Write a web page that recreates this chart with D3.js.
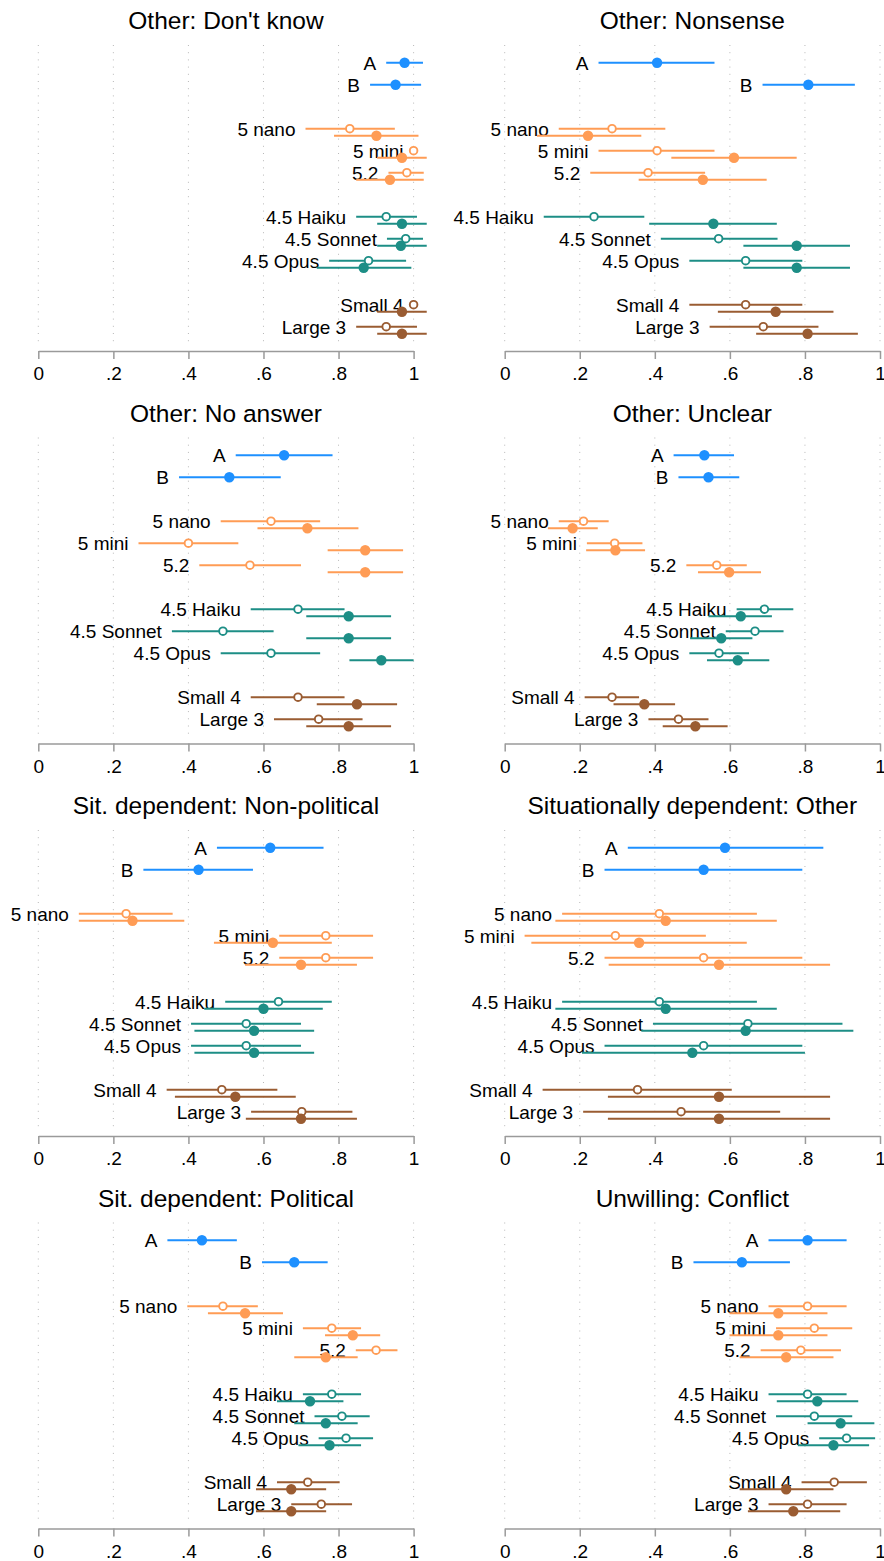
<!DOCTYPE html>
<html>
<head>
<meta charset="utf-8">
<script src="https://cdn.jsdelivr.net/npm/d3@7"></script>
<style>
  html, body { margin: 0; padding: 0; background: #fff; }
  svg text { font-family: "Liberation Sans", Arial, Helvetica, sans-serif; fill: #000; }
</style>
</head>
<body>
<svg id="chart" width="884" height="1561"></svg>
<script>
// ---------------- DATA ----------------
const panelTitles = [
  "Other: Don't know", "Other: Nonsense",
  "Other: No answer", "Other: Unclear",
  "Sit. dependent: Non-political", "Situationally dependent: Other",
  "Sit. dependent: Political", "Unwilling: Conflict"
];
const groupLabels = ["A", "B"];
const modelLabels = ["5 nano", "5 mini", "5.2", "4.5 Haiku", "4.5 Sonnet", "4.5 Opus", "Small 4", "Large 3"];
const modelFamily = ["gpt", "gpt", "gpt", "claude", "claude", "claude", "mistral", "mistral"];
const tickValues = [0, 0.2, 0.4, 0.6, 0.8, 1];
const tickLabels = ["0", ".2", ".4", ".6", ".8", "1"];

// A / B estimates per panel
const abEst = [[0.976,0.952],[0.406,0.809],[0.655,0.509],[0.532,0.543],[0.618,0.427],[0.587,0.530],[0.436,0.682],[0.807,0.632]];
const abLo  = [[0.927,0.884],[0.250,0.687],[0.526,0.375],[0.450,0.463],[0.476,0.280],[0.328,0.266],[0.344,0.596],[0.703,0.503]];
const abHi  = [[1.025,1.020],[0.559,0.933],[0.784,0.646],[0.611,0.625],[0.760,0.572],[0.849,0.793],[0.529,0.771],[0.911,0.760]];

// hollow-marker series per panel (models in order of modelLabels)
const hollowEst = [
  [0.830,1.000,0.982,0.927,0.979,0.880,1.000,0.927],
  [0.286,0.406,0.382,0.238,0.570,0.642,0.642,0.689],
  [0.620,0.400,0.564,0.692,0.492,0.620,0.692,0.747],
  [0.210,0.293,0.565,0.692,0.667,0.571,0.286,0.463],
  [0.234,0.766,0.766,0.640,0.554,0.554,0.489,0.702],
  [0.412,0.295,0.530,0.412,0.648,0.530,0.354,0.470],
  [0.492,0.782,0.900,0.782,0.809,0.820,0.718,0.754],
  [0.807,0.825,0.789,0.807,0.825,0.911,0.878,0.807]
];
const hollowLo = [
  [0.712,1.000,0.933,0.847,0.929,0.775,1.000,0.847],
  [0.144,0.250,0.228,0.104,0.416,0.492,0.492,0.546],
  [0.486,0.267,0.429,0.566,0.356,0.486,0.566,0.628],
  [0.144,0.219,0.484,0.618,0.589,0.492,0.213,0.383],
  [0.108,0.642,0.642,0.498,0.407,0.407,0.342,0.567],
  [0.153,0.053,0.266,0.153,0.395,0.266,0.101,0.209],
  [0.397,0.705,0.846,0.705,0.736,0.747,0.636,0.674],
  [0.703,0.723,0.682,0.703,0.723,0.838,0.791,0.703]
];
const hollowHi = [
  [0.950,1.000,1.027,1.009,1.025,0.980,1.000,1.009],
  [0.428,0.559,0.534,0.372,0.727,0.793,0.793,0.836],
  [0.751,0.533,0.700,0.816,0.627,0.751,0.816,0.864],
  [0.277,0.367,0.645,0.769,0.743,0.651,0.358,0.543],
  [0.358,0.892,0.892,0.782,0.700,0.700,0.637,0.837],
  [0.672,0.536,0.793,0.672,0.900,0.793,0.605,0.734],
  [0.585,0.860,0.957,0.860,0.883,0.892,0.803,0.836],
  [0.911,0.926,0.896,0.911,0.926,0.987,0.965,0.911]
];

// filled-marker series per panel
const filledEst = [
  [0.901,0.969,0.937,0.969,0.966,0.867,0.969,0.969],
  [0.222,0.611,0.528,0.556,0.778,0.778,0.722,0.807],
  [0.717,0.871,0.871,0.827,0.827,0.914,0.849,0.827],
  [0.181,0.295,0.598,0.629,0.577,0.621,0.372,0.508],
  [0.251,0.625,0.700,0.600,0.575,0.575,0.525,0.700],
  [0.429,0.358,0.571,0.429,0.642,0.500,0.571,0.571],
  [0.551,0.838,0.766,0.724,0.766,0.776,0.674,0.674],
  [0.729,0.729,0.750,0.833,0.895,0.876,0.750,0.769]
];
const filledLo = [
  [0.788,0.903,0.847,0.903,0.903,0.742,0.903,0.903],
  [0.086,0.444,0.357,0.385,0.636,0.636,0.568,0.670],
  [0.584,0.771,0.771,0.714,0.714,0.829,0.742,0.714],
  [0.115,0.217,0.515,0.543,0.494,0.539,0.290,0.421],
  [0.108,0.468,0.551,0.442,0.416,0.416,0.364,0.553],
  [0.135,0.071,0.277,0.135,0.364,0.206,0.275,0.275],
  [0.452,0.764,0.682,0.636,0.682,0.693,0.580,0.580],
  [0.599,0.599,0.626,0.725,0.807,0.781,0.626,0.648]
];
const filledHi = [
  [1.013,1.040,1.027,1.040,1.040,0.994,1.040,1.040],
  [0.364,0.778,0.698,0.725,0.920,0.920,0.876,0.941],
  [0.853,0.972,0.972,0.940,0.940,1.000,0.956,0.940],
  [0.248,0.374,0.683,0.712,0.660,0.705,0.454,0.594],
  [0.389,0.782,0.849,0.758,0.735,0.735,0.686,0.849],
  [0.725,0.645,0.867,0.725,0.929,0.800,0.867,0.867],
  [0.652,0.911,0.851,0.813,0.851,0.860,0.767,0.767],
  [0.860,0.860,0.876,0.942,0.985,0.971,0.876,0.894]
];

// ---------------- STYLE / LAYOUT ----------------
const colors = { ab: "#1E90FF", gpt: "#FF9C55", claude: "#1D8E86", mistral: "#9A5C32" };
const rowDomain = ["A", "B", "_g1", "5 nano", "5 mini", "5.2", "_g2", "4.5 Haiku", "4.5 Sonnet", "4.5 Opus", "_g3", "Small 4", "Large 3"];
const panelH = 392.5;
const colX = [38.3, 504.7];
const plotW = 375.3;
const axisY = 351;
const gridTop = 45;
const filledOffset = 7;
const labelGap = 10;

const svg = d3.select("#chart");
const defs = svg.append("defs");

const x = d3.scaleLinear().domain([0, 1]).range([0, plotW]);
const y = d3.scalePoint().domain(rowDomain).range([62.7, 326.7]);

panelTitles.forEach((title, p) => {
  const col = p % 2, row = Math.floor(p / 2);
  const g = svg.append("g").attr("transform", `translate(${colX[col]},${row * panelH})`);

  const clipId = "clip" + p;
  defs.append("clipPath").attr("id", clipId)
    .append("rect").attr("x", -60).attr("y", 0).attr("width", x(1.035) + 60).attr("height", axisY);

  // title
  g.append("text")
    .attr("x", plotW / 2).attr("y", 29.3)
    .attr("text-anchor", "middle")
    .style("font-size", "24.5px")
    .text(title);

  // grid lines
  g.append("g").selectAll("line").data(tickValues).join("line")
    .attr("x1", d => x(d)).attr("x2", d => x(d))
    .attr("y1", gridTop).attr("y2", axisY - 5)
    .attr("stroke", "#b8b8b8").attr("stroke-width", 1)
    .attr("stroke-dasharray", "1,6.2");

  // axis
  const axis = d3.axisBottom(x).tickValues(tickValues)
    .tickFormat((d, i) => tickLabels[i]).tickSize(8).tickSizeOuter(0).tickPadding(8);
  const ag = g.append("g").attr("transform", `translate(0,${axisY})`).call(axis);
  ag.select(".domain").attr("stroke", "#9a9a9a").attr("stroke-width", 1.5);
  ag.selectAll(".tick line").attr("stroke", "#9a9a9a").attr("stroke-width", 1.5);
  ag.selectAll(".tick text")
    .style("font-size", "19px")
    .style("font-family", '"Liberation Sans", Arial, Helvetica, sans-serif')
    .attr("fill", "#000");

  // labels (drawn first; lines sit over them)
  const lab = g.append("g");
  groupLabels.forEach((name, i) => {
    lab.append("text")
      .attr("x", x(abLo[p][i]) - labelGap)
      .attr("y", y(name)).attr("dy", "0.36em")
      .attr("text-anchor", "end")
      .style("font-size", "19px")
      .text(name);
  });
  modelLabels.forEach((name, i) => {
    lab.append("text")
      .attr("x", x(hollowLo[p][i]) - labelGap)
      .attr("y", y(name)).attr("dy", "0.36em")
      .attr("text-anchor", "end")
      .style("font-size", "19px")
      .text(name);
  });

  const marks = g.append("g").attr("clip-path", `url(#${clipId})`);

  // A/B
  groupLabels.forEach((name, i) => {
    marks.append("line")
      .attr("x1", x(abLo[p][i])).attr("x2", x(abHi[p][i]))
      .attr("y1", y(name)).attr("y2", y(name))
      .attr("stroke", colors.ab).attr("stroke-width", 2);
    marks.append("circle")
      .attr("cx", x(abEst[p][i])).attr("cy", y(name)).attr("r", 5.2)
      .attr("fill", colors.ab);
  });

  // model series: hollow markers
  modelLabels.forEach((name, i) => {
    const c = colors[modelFamily[i]];
    const yh = y(name);
    marks.append("line")
      .attr("x1", x(hollowLo[p][i])).attr("x2", x(hollowHi[p][i]))
      .attr("y1", yh).attr("y2", yh)
      .attr("stroke", c).attr("stroke-width", 2);
    marks.append("circle")
      .attr("cx", x(hollowEst[p][i])).attr("cy", yh).attr("r", 3.8)
      .attr("fill", "#fff").attr("stroke", c).attr("stroke-width", 1.9);
  });
  // model series: filled markers
  modelLabels.forEach((name, i) => {
    const c = colors[modelFamily[i]];
    const yf = y(name) + filledOffset;
    marks.append("line")
      .attr("x1", x(filledLo[p][i])).attr("x2", x(filledHi[p][i]))
      .attr("y1", yf).attr("y2", yf)
      .attr("stroke", c).attr("stroke-width", 2);
    marks.append("circle")
      .attr("cx", x(filledEst[p][i])).attr("cy", yf).attr("r", 5.2)
      .attr("fill", c);
  });
});
</script>
</body>
</html>
